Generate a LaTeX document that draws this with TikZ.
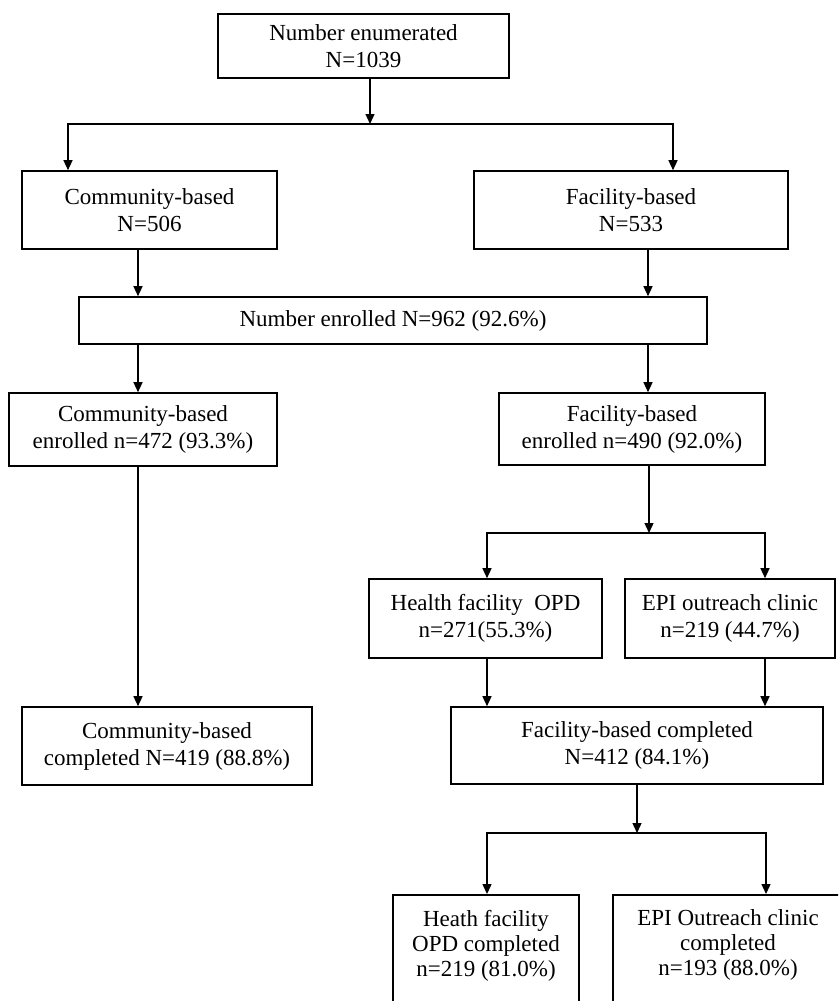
\documentclass[tikz,border=0pt]{standalone}
\usepackage{fontspec}
\setmainfont{Liberation Serif}
\usetikzlibrary{arrows.meta}
\begin{document}
\begin{tikzpicture}[x=1pt,y=-1pt,
  box/.style={draw=black, line width=1.6pt, align=center, inner sep=0pt, text=black, font=\fontsize{23}{27}\selectfont},
  arr/.style={line width=1.3pt, -{Triangle[length=10pt,width=9pt]}},
  ln/.style={line width=1.3pt}]
\useasboundingbox (0,0) rectangle (838,1001);
\clip (0,0) rectangle (838,1001);
% boxes
\node[box, minimum width=291pt, minimum height=64pt] (enum) at (363.5,46) {Number enumerated\\N=1039};
\node[box, minimum width=255pt, minimum height=78pt] (comm) at (149.5,210) {Community-based\\N=506};
\node[box, minimum width=314pt, minimum height=78pt] (fac) at (631,210) {Facility-based\\N=533};
\node[box, minimum width=628pt, minimum height=47pt] (enr) at (393,320.5) {Number enrolled N=962 (92.6\%)};
\node[box, minimum width=268pt, minimum height=73pt] (commenr) at (143,429.5) {Community-based\\enrolled n=472 (93.3\%)};
\node[box, minimum width=266pt, minimum height=72pt] (facenr) at (632,429) {Facility-based\\enrolled n=490 (92.0\%)};
\node[box, minimum width=233pt, minimum height=79pt] (opd) at (485.5,618.5) {Health facility~ OPD\\n=271(55.3\%)};
\node[box, minimum width=210pt, minimum height=79pt] (epi) at (730,618.5) {EPI outreach clinic\\n=219 (44.7\%)};
\node[box, minimum width=290pt, minimum height=78pt] (commcomp) at (167,746) {Community-based\\completed N=419 (88.8\%)};
\node[box, minimum width=372pt, minimum height=77pt] (faccomp) at (637,745.5) {Facility-based completed\\N=412 (84.1\%)};
\node[box, anchor=north, inner ysep=15pt, minimum width=186pt, font=\fontsize{23}{25}\selectfont] (hopdc) at (486,894) {Heath facility\\OPD completed\\n=219 (81.0\%)\rule[-60pt]{0pt}{0pt}};
\node[box, anchor=north, inner ysep=15pt, minimum width=230pt, font=\fontsize{23}{25}\selectfont] (epic) at (728,894) {EPI Outreach clinic\\completed\\n=193 (88.0\%)\rule[-60pt]{0pt}{0pt}};
% junction coordinates
\coordinate (j1) at (370,124);
\coordinate (jl) at (68,124);
\coordinate (jr) at (673,124);
\coordinate (xa) at (138,0);
\coordinate (xb) at (648,0);
\coordinate (j2) at (649,533);
\coordinate (jl2) at (487,533);
\coordinate (jr2) at (765,533);
\coordinate (j3) at (637,833);
\coordinate (jl3) at (487,833);
\coordinate (jr3) at (766,833);
% connectors
\draw[arr] (enum.south -| j1) -- (j1);
\draw[arr] (j1) -| (comm.north -| jl);
\draw[arr] (j1) -| (fac.north -| jr);
\draw[arr] (comm.south -| xa) -- (enr.north -| xa);
\draw[arr] (fac.south -| xb) -- (enr.north -| xb);
\draw[arr] (enr.south -| xa) -- (commenr.north -| xa);
\draw[arr] (enr.south -| xb) -- (facenr.north -| xb);
\draw[arr] (commenr.south -| xa) -- (commcomp.north -| xa);
\draw[arr] (facenr.south -| j2) -- (j2);
\draw[arr] (j2) -| (opd.north -| jl2);
\draw[arr] (j2) -| (epi.north -| jr2);
\draw[arr] (opd.south -| jl2) -- (faccomp.north -| jl2);
\draw[arr] (epi.south -| jr2) -- (faccomp.north -| jr2);
\draw[arr] (faccomp.south -| j3) -- (j3);
\draw[arr] (j3) -| (hopdc.north -| jl3);
\draw[arr] (j3) -| (epic.north -| jr3);
\end{tikzpicture}
\end{document}
